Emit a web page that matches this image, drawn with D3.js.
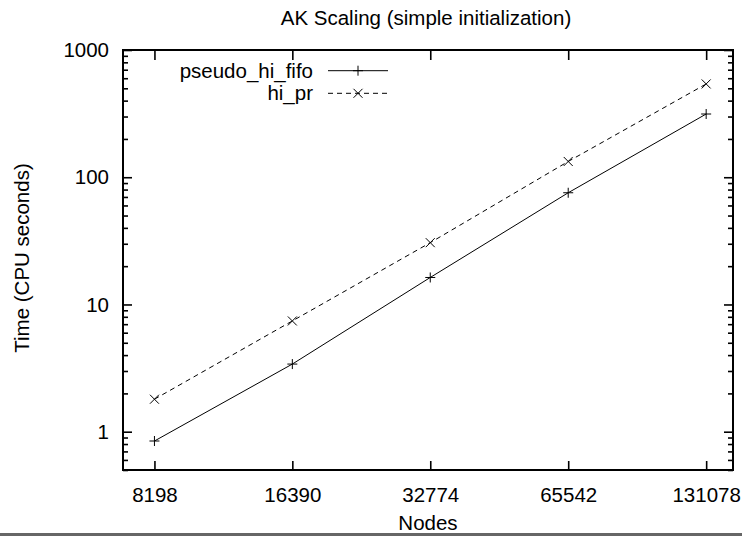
<!DOCTYPE html>
<html>
<head>
<meta charset="utf-8">
<script src="https://cdn.jsdelivr.net/npm/d3@7"></script>
<style>
  body { margin: 0; background: #fff; }
  svg text { font-family: "Liberation Sans", Arial, Helvetica, sans-serif; fill: #000; }
</style>
</head>
<body>
<div id="chart"></div>
<script>
  const nodes = [8198, 16390, 32774, 65542, 131078];
  const pseudoHiFifo = [0.845, 3.4, 16.3, 75.5, 314];
  const hiPr = [1.8, 7.42, 30.6, 133, 541];
  const yMajor = [1, 10, 100, 1000];
  const seriesNames = ['pseudo_hi_fifo', 'hi_pr'];

  const W = 742, H = 536;
  let margin = { top: 50, right: 9, bottom: 66, left: 123 };
  let width = W - margin.left - margin.right;
  let height = H - margin.top - margin.bottom;
  const fontSize = '20.5px';

  let svg = d3.select('#chart')
    .append('svg')
    .attr('width', W)
    .attr('height', H);

  // grey strip along the bottom edge of the picture
  svg.append('rect')
    .attr('x', 0).attr('y', 533)
    .attr('width', W).attr('height', 3)
    .attr('fill', '#666');

  let g = svg.append('g')
    .attr('transform', `translate(${margin.left}, ${margin.top})`);

  let xScale = d3.scaleLog().base(2)
    .domain([7000, 150000])
    .range([0, width]);

  let yScale = d3.scaleLog()
    .domain([0.5, 1000])
    .range([height, 0]);

  // minor ticks: 2..9 of each decade, plus the part below 1
  let yMinor = [];
  for (let d = 0.1; d < 1000; d *= 10) {
    for (let k = 2; k <= 9; k += 1) {
      let v = +(k * d).toPrecision(3);
      if (v >= 0.5 && v <= 1000) yMinor.push(v);
    }
  }

  function styleAxis(sel) {
    sel.select('.domain').remove();
    sel.selectAll('.tick line').attr('stroke', '#000').attr('stroke-width', 1.6);
    sel.selectAll('.tick text').style('font-size', fontSize);
  }

  // left axis
  g.append('g')
    .call(d3.axisLeft(yScale).tickValues(yMajor).tickSize(-9).tickPadding(14).tickFormat(d3.format('d')))
    .call(styleAxis);
  g.append('g')
    .call(d3.axisLeft(yScale).tickValues(yMinor).tickSize(-5).tickFormat(''))
    .call(styleAxis);

  // right axis (mirror)
  g.append('g')
    .attr('transform', `translate(${width}, 0)`)
    .call(d3.axisRight(yScale).tickValues(yMajor).tickSize(-9).tickFormat(''))
    .call(styleAxis);
  g.append('g')
    .attr('transform', `translate(${width}, 0)`)
    .call(d3.axisRight(yScale).tickValues(yMinor).tickSize(-5).tickFormat(''))
    .call(styleAxis);

  // bottom axis
  g.append('g')
    .attr('transform', `translate(0, ${height})`)
    .call(d3.axisBottom(xScale).tickValues(nodes).tickSize(-9).tickPadding(17).tickFormat(d3.format('d')))
    .call(styleAxis);

  // top axis (mirror)
  g.append('g')
    .call(d3.axisTop(xScale).tickValues(nodes).tickSize(-10).tickFormat(''))
    .call(styleAxis);

  // frame
  g.append('rect')
    .attr('width', width)
    .attr('height', height)
    .attr('fill', 'none')
    .attr('stroke', '#000')
    .attr('stroke-width', 2);

  // titles
  svg.append('text')
    .attr('x', 426)
    .attr('y', 25)
    .style('text-anchor', 'middle')
    .style('font-size', fontSize)
    .text('AK Scaling (simple initialization)');

  svg.append('text')
    .attr('x', margin.left + width / 2)
    .attr('y', 530)
    .style('text-anchor', 'middle')
    .style('font-size', fontSize)
    .text('Nodes');

  svg.append('text')
    .attr('transform', 'rotate(-90)')
    .attr('x', -258)
    .attr('y', 29)
    .style('text-anchor', 'middle')
    .style('font-size', fontSize)
    .text('Time (CPU seconds)');

  // markers
  function plus(sel, s) {
    sel.append('path').attr('d', `M${-s},0H${s}M0,${-s}V${s}`);
  }
  function cross(sel, s) {
    sel.append('path').attr('d', `M${-s},${-s}L${s},${s}M${-s},${s}L${s},${-s}`);
  }

  let series = [
    { name: seriesNames[0], values: pseudoHiFifo, dash: null, marker: plus, size: 5 },
    { name: seriesNames[1], values: hiPr, dash: '5,4', marker: cross, size: 4.5 },
  ];

  let line = d3.line()
    .x(d => xScale(d.x))
    .y(d => yScale(d.y));

  series.forEach((s, i) => {
    let pts = nodes.map((n, j) => ({ x: n, y: s.values[j] }));

    g.append('path')
      .datum(pts)
      .attr('d', line)
      .attr('fill', 'none')
      .attr('stroke', '#000')
      .attr('stroke-width', 1)
      .attr('stroke-dasharray', s.dash);

    g.selectAll('.m' + i)
      .data(pts)
      .enter()
      .append('g')
      .attr('class', 'm' + i)
      .attr('transform', d => `translate(${xScale(d.x)}, ${yScale(d.y)})`)
      .attr('fill', 'none')
      .attr('stroke', '#000')
      .attr('stroke-width', 1)
      .each(function () { s.marker(d3.select(this), s.size); });

    // legend row
    let ly = 70.7 + i * 22.6;
    svg.append('text')
      .attr('x', 313)
      .attr('y', ly)
      .attr('dy', '0.35em')
      .style('text-anchor', 'end')
      .style('font-size', fontSize)
      .text(s.name);
    svg.append('line')
      .attr('x1', 328).attr('x2', 388)
      .attr('y1', ly).attr('y2', ly)
      .attr('stroke', '#000')
      .attr('stroke-width', 1)
      .attr('stroke-dasharray', s.dash);
    let lm = svg.append('g')
      .attr('transform', `translate(358, ${ly})`)
      .attr('fill', 'none')
      .attr('stroke', '#000')
      .attr('stroke-width', 1);
    s.marker(lm, s.size);
  });
</script>
</body>
</html>
